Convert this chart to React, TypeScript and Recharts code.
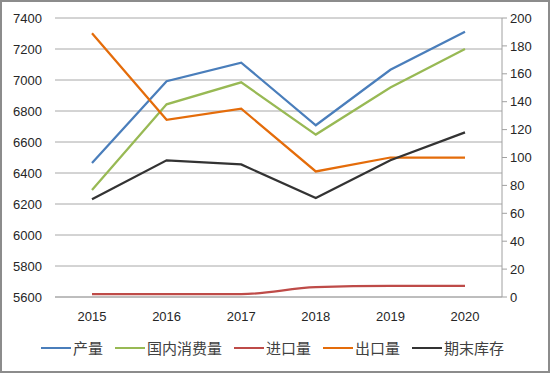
import React from 'react';
import { LineChart, Line, XAxis, YAxis, CartesianGrid, Legend } from 'recharts';

const years = ['2015', '2016', '2017', '2018', '2019', '2020'];
const production = [6465, 6992, 7112, 6708, 7066, 7312];
const consumption = [6290, 6843, 6985, 6648, 6952, 7200];
const imports = [2, 2, 2, 7, 8, 8];
const exportsQ = [189, 127, 135, 90, 100, 100];
const stocks = [70, 98, 95, 71, 98, 118];

const leftTicks = [5600, 5800, 6000, 6200, 6400, 6600, 6800, 7000, 7200, 7400];
const rightTicks = [0, 20, 40, 60, 80, 100, 120, 140, 160, 180, 200];

const series = [
  { key: 'production', name: '产量', color: '#4A7EBB', axis: 'left', values: production, curve: 'linear' },
  { key: 'consumption', name: '国内消费量', color: '#98B954', axis: 'left', values: consumption, curve: 'linear' },
  { key: 'imports', name: '进口量', color: '#BE4B48', axis: 'right', values: imports, curve: 'monotone' },
  { key: 'exports', name: '出口量', color: '#E46C0A', axis: 'right', values: exportsQ, curve: 'linear' },
  { key: 'stocks', name: '期末库存', color: '#333333', axis: 'right', values: stocks, curve: 'linear' },
];

const data = years.map((y, i) => {
  const row: Record<string, any> = { year: y };
  series.forEach((s) => {
    row[s.key] = s.values[i];
  });
  return row;
});

const tickFont = { fontFamily: '"Liberation Sans", Arial, sans-serif', fontSize: 13, fill: '#262626' };

const LegendContent = () => (
  <div
    style={{
      display: 'flex',
      alignItems: 'center',
      height: 20,
      paddingLeft: 41,
      fontFamily: '"Noto Sans CJK SC", sans-serif',
      fontSize: 15,
      color: '#404040',
    }}
  >
    {series.map((s) => (
      <div key={s.key} style={{ display: 'flex', alignItems: 'center', marginRight: 12 }}>
        <div style={{ width: 30, height: 2.5, background: s.color, marginRight: 2 }} />
        <span style={{ lineHeight: '20px' }}>{s.name}</span>
      </div>
    ))}
  </div>
);

export default function App() {
  return (
    <div style={{ position: 'absolute', left: 0, top: 0, width: 550, height: 373, background: '#fff' }}>
      <LineChart width={550} height={373} data={data} margin={{ top: 18, right: 0, left: 0, bottom: 26 }}>
        <CartesianGrid yAxisId="left" vertical={false} stroke="#a8a8a8" strokeWidth={1} />
        <XAxis
          dataKey="year"
          height={30}
          padding={{ left: 37, right: 37 }}
          axisLine={{ stroke: '#a8a8a8' }}
          tickLine={false}
          tickSize={0}
          tickMargin={15}
          tick={tickFont}
        />
        <YAxis
          yAxisId="left"
          orientation="left"
          width={55}
          domain={[5600, 7400]}
          ticks={leftTicks}
          interval={0}
          axisLine={false}
          tickLine={false}
          tickSize={0}
          tickMargin={13}
          tick={tickFont}
        />
        <YAxis
          yAxisId="right"
          orientation="right"
          width={48}
          domain={[0, 200]}
          ticks={rightTicks}
          interval={0}
          axisLine={{ stroke: '#a0a0a0' }}
          tickLine={{ stroke: '#a0a0a0' }}
          tickSize={5}
          tickMargin={3}
          tick={tickFont}
        />
        {series.map((s) => (
          <Line
            key={s.key}
            yAxisId={s.axis}
            type={s.curve as any}
            dataKey={s.key}
            name={s.name}
            stroke={s.color}
            strokeWidth={2.25}
            dot={false}
            isAnimationActive={false}
          />
        ))}
        <Legend
          verticalAlign="bottom"
          content={<LegendContent />}
          wrapperStyle={{ position: 'absolute', top: 338, left: 0, width: 550, height: 20 }}
        />
      </LineChart>
      <div
        style={{
          position: 'absolute',
          inset: 0,
          border: '2px solid #8c8c8c',
          boxSizing: 'border-box',
          pointerEvents: 'none',
        }}
      />
    </div>
  );
}
